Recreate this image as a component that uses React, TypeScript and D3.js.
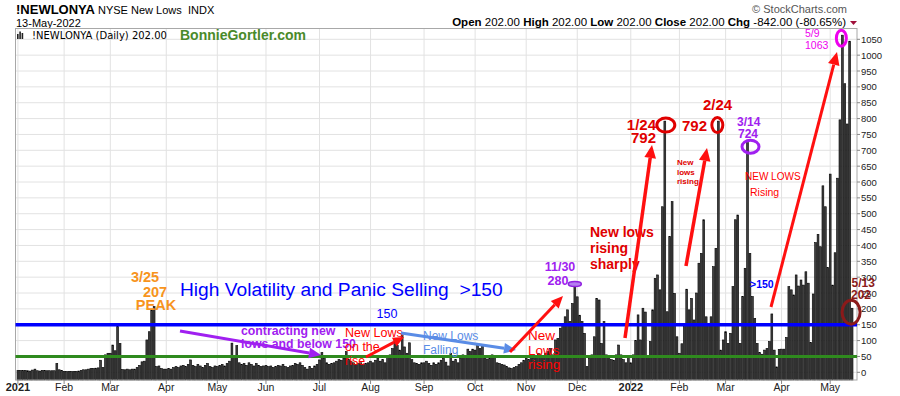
import React from "react";
import * as d3 from "d3";

// month labels along the bottom axis and the number of trading days in each month
const monthLabels = ["2021", "Feb", "Mar", "Apr", "May", "Jun", "Jul", "Aug", "Sep", "Oct", "Nov", "Dec", "2022", "Feb", "Mar", "Apr", "May"];
const boldLabels = ["2021", "2022"];
const monthDays = [19, 19, 23, 21, 20, 22, 21, 22, 21, 21, 21, 22, 20, 19, 23, 20, 10];

// daily NYSE new lows, one array per month
const jan21 = [6, 6, 6, 6, 5, 4, 7, 10, 5, 4, 6, 6, 5, 5, 5, 5, 28, 8, 6];
const feb21 = [3, 3, 3, 3, 3, 3, 4, 6, 8, 8, 10, 12, 12, 13, 14, 38, 15, 55, 60];
const mar21 = [60, 86, 68, 144, 91, 9, 8, 10, 8, 10, 10, 15, 22, 33, 35, 102, 128, 197, 207, 18, 20, 12, 10];
const apr21 = [10, 12, 10, 15, 18, 15, 20, 22, 18, 25, 39, 22, 18, 25, 20, 15, 22, 28, 18, 15, 20];
const may21 = [18, 22, 25, 20, 28, 35, 92, 50, 84, 30, 25, 28, 22, 30, 25, 20, 28, 22, 18, 20];
const jun21 = [22, 18, 20, 15, 18, 22, 20, 25, 18, 15, 20, 22, 28, 25, 30, 22, 15, 10, 18, 12, 20, 25];
const jul21 = [39, 62, 44, 30, 25, 28, 30, 35, 40, 38, 45, 65, 40, 35, 30, 25, 28, 30, 25, 28, 30];
const aug21 = [35, 30, 38, 45, 35, 40, 30, 49, 55, 75, 100, 85, 70, 118, 80, 60, 93, 40, 30, 28, 25, 30];
const sep21 = [30, 35, 28, 22, 30, 25, 30, 38, 44, 32, 20, 60, 35, 40, 30, 45, 55, 50, 73, 65, 73];
const oct21 = [70, 86, 75, 86, 45, 42, 45, 55, 50, 30, 28, 25, 23, 18, 14, 12, 15, 18, 25, 30, 38];
const nov21 = [45, 40, 55, 45, 50, 60, 55, 50, 60, 65, 75, 55, 102, 107, 139, 149, 175, 197, 160, 217, 280];
const dec21 = [238, 180, 160, 123, 18, 44, 55, 112, 233, 228, 91, 160, 55, 52, 40, 38, 55, 86, 55, 40, 30, 50];
const jan22 = [30, 55, 100, 181, 102, 202, 190, 49, 97, 197, 296, 307, 260, 522, 792, 191, 428, 538, 249, 112];
const feb22 = [60, 90, 144, 262, 197, 233, 165, 250, 344, 375, 481, 175, 149, 175, 333, 391, 792, 70, 102];
const mar22 = [128, 91, 123, 270, 481, 496, 91, 239, 328, 724, 375, 239, 170, 91, 62, 57, 70, 75, 97, 184, 70, 17, 72];
const apr22 = [73, 73, 110, 270, 260, 244, 307, 272, 291, 275, 317, 281, 94, 247, 409, 435, 396, 588, 522, 330];
const may22 = [625, 275, 377, 612, 796, 1063, 910, 783, 1044, 202];

const newLows = [
  ...jan21, ...feb21, ...mar21, ...apr21, ...may21, ...jun21, ...jul21, ...aug21, ...sep21,
  ...oct21, ...nov21, ...dec21, ...jan22, ...feb22, ...mar22, ...apr22, ...may22,
];

const yTicks = d3.range(0, 1051, 50);

const W = 900;
const H = 396;
const left = 15.5;
const right = 857;
const top = 28.5;
const bottom = 380;

function Arrow({ x1, y1, x2, y2, color, w = 3, head = 12 }) {
  const a = Math.atan2(y2 - y1, x2 - x1);
  const hx = x2 - head * Math.cos(a);
  const hy = y2 - head * Math.sin(a);
  const hw = head * 0.45;
  const pts = [
    [x2, y2],
    [hx + hw * Math.sin(a), hy - hw * Math.cos(a)],
    [hx - hw * Math.sin(a), hy + hw * Math.cos(a)],
  ];
  return (
    <g>
      <line x1={x1} y1={y1} x2={hx} y2={hy} stroke={color} strokeWidth={w} />
      <polygon points={pts.map((p) => p.join(",")).join(" ")} fill={color} />
    </g>
  );
}

export default function App() {
  const x = d3.scaleBand().domain(d3.range(newLows.length)).range([16.7, 853.3]);
  const y = d3.scaleLinear().domain([0, 1050]).range([372.3, 39.3]);
  const bw = x.bandwidth();
  const cx = (i) => x(i) + bw / 2;

  const starts = [0, ...d3.cumsum(monthDays)].slice(0, monthDays.length);

  const font = "Arial, 'Liberation Sans', sans-serif";

  return (
    <svg width={W} height={H} style={{ position: "absolute", left: 0, top: 0, background: "#fff" }} fontFamily={font}>
      <rect x={0} y={0} width={W} height={H} fill="#fff" />

      {/* header */}
      <text x={16} y={13.5} fontSize={13} fontWeight="bold">!NEWLONYA</text>
      <text x={98} y={13.5} fontSize={11}>NYSE New Lows</text>
      <text x={188} y={13.5} fontSize={11}>INDX</text>
      <text x={16} y={26.5} fontSize={11}>13-May-2022</text>
      <text x={847} y={12.5} fontSize={11} fill="#555" textAnchor="end">© StockCharts.com</text>
      <text x={846} y={26} fontSize={11.5} textAnchor="end">
        <tspan fontWeight="bold">Open</tspan> 202.00{"  "}
        <tspan fontWeight="bold">High</tspan> 202.00{"  "}
        <tspan fontWeight="bold">Low</tspan> 202.00{"  "}
        <tspan fontWeight="bold">Close</tspan> 202.00{"  "}
        <tspan fontWeight="bold">Chg</tspan> -842.00 (-80.65%)
      </text>
      <polygon points="850,21 857,21 853.5,25" fill="#a0103a" />

      {/* grid */}
      {yTicks.map((t) => (
        <line key={"h" + t} x1={left} x2={right} y1={y(t)} y2={y(t)} stroke="#e2e2e2" />
      ))}
      {starts.map((s, i) => (
        <line key={"v" + i} x1={cx(s)} x2={cx(s)} y1={top} y2={bottom} stroke="#e2e2e2" />
      ))}

      {/* bars */}
      {newLows.map((v, i) => (
        <rect key={i} x={x(i) + 0.3} width={bw - 0.6} y={y(v)} height={bottom - y(v)} fill="#3f3f3f" stroke="#000" strokeWidth={0.6} />
      ))}

      {/* frame */}
      <rect x={left} y={top} width={right - left} height={bottom - top} fill="none" stroke="#a8a8a8" />

      {/* legend row inside the plot */}
      <g fill="#222">
        <rect x={17} y={34} width={1.6} height={5} />
        <rect x={19.3} y={31.5} width={1.6} height={7.5} />
        <rect x={21.6} y={33} width={1.6} height={6} />
      </g>
      <text x={32} y={39} fontSize={10} fontFamily="'DejaVu Sans', sans-serif">!NEWLONYA (Daily) 202.00</text>
      <text x={180} y={39.5} fontSize={14} fontWeight="bold" fill="#4a8a2a">BonnieGortler.com</text>

      {/* right axis */}
      {yTicks.map((t) => (
        <g key={"yt" + t}>
          <line x1={right} x2={right + 3} y1={y(t)} y2={y(t)} stroke="#888" />
          <text x={861} y={y(t) + 3.5} fontSize={9.5} fill="#222">{t}</text>
        </g>
      ))}

      {/* bottom axis */}
      {starts.map((s, i) => (
        <g key={"xt" + i}>
          <line x1={cx(s)} x2={cx(s)} y1={bottom} y2={bottom + 4} stroke="#888" />
          <text
            x={cx(s)}
            y={391}
            fontSize={boldLabels.includes(monthLabels[i]) ? 11 : 10.5}
            fontWeight={boldLabels.includes(monthLabels[i]) ? "bold" : "normal"}
            textAnchor="middle"
            fill="#222"
          >
            {monthLabels[i]}
          </text>
        </g>
      ))}

      {/* reference lines */}
      <line x1={left} x2={right} y1={y(150)} y2={y(150)} stroke="#0000ff" strokeWidth={3.5} />
      <line x1={left} x2={right} y1={y(50)} y2={y(50)} stroke="#2f8a1e" strokeWidth={3} />

      {/* annotations */}
      <g fill="#f7941d" fontWeight="bold" fontSize={14.5} textAnchor="middle">
        <text x={145} y={282}>3/25</text>
        <text x={155} y={297}>207</text>
        <text x={156} y={310}>PEAK</text>
      </g>
      <text x={180} y={295.5} fontSize={19.2} fill="#0000ff">High Volatility and Panic Selling {"\u00a0"}&gt;150</text>
      <text x={376.5} y={318} fontSize={12.5} fill="#0000ff">150</text>

      <Arrow x1={180} y1={331} x2={321} y2={355} color="#a020f0" w={3} head={12} />
      <g fill="#a020f0" fontWeight="bold" fontSize={12.3}>
        <text x={241} y={334.5}>contracting new</text>
        <text x={241} y={348}>lows and below 150</text>
      </g>

      <g fill="#ff0000" fontSize={12.5}>
        <text x={345} y={337}>New Lows</text>
        <text x={345} y={351}>on the</text>
        <text x={345} y={365}>rise</text>
      </g>
      <Arrow x1={366} y1={357} x2={404} y2={337} color="#ff1010" w={3} head={11} />

      <g fill="#5a8ce6" fontSize={12}>
        <text x={423} y={340}>New Lows</text>
        <text x={423} y={353.5}>Falling</text>
      </g>
      <Arrow x1={401} y1={333} x2={516} y2={350} color="#5a8ce6" w={3} head={12} />

      <g fill="#ff0000" fontSize={13.5}>
        <text x={528} y={340}>New</text>
        <text x={528} y={355}>Lows</text>
        <text x={528} y={369}>rising</text>
      </g>
      <Arrow x1={510} y1={352} x2={563} y2={296} color="#ff1010" w={3} head={12} />

      <g fill="#a020f0" fontWeight="bold" fontSize={12.5} textAnchor="middle">
        <text x={560} y={271}>11/30</text>
        <text x={558} y={284.5}>280</text>
      </g>
      <ellipse cx={cx(229)} cy={y(280) + 0.5} rx={6.5} ry={2.5} fill="#b57ef0" stroke="#9020e0" strokeWidth={1.5} />

      <g fill="#e00000" fontWeight="bold" fontSize={14}>
        <text x={590} y={237}>New lows</text>
        <text x={590} y={253}>rising</text>
        <text x={590} y={269}>sharply</text>
      </g>
      <Arrow x1={625} y1={338} x2={652} y2={145} color="#ff1010" w={3.5} head={13} />

      <g fill="#e00000" fontWeight="bold" fontSize={15} textAnchor="end">
        <text x={656} y={130}>1/24</text>
        <text x={656} y={143}>792</text>
      </g>
      <ellipse cx={cx(266) + 1} cy={y(792) + 4} rx={9} ry={7} fill="none" stroke="#e00000" strokeWidth={3} />

      <g fill="#e00000" fontWeight="bold" fontSize={15}>
        <text x={703} y={110}>2/24</text>
        <text x={682} y={131}>792</text>
      </g>
      <ellipse cx={cx(288) - 1} cy={y(792) + 4} rx={5.5} ry={7.5} fill="none" stroke="#e00000" strokeWidth={3} />

      <g fill="#e00000" fontWeight="bold" fontSize={8}>
        <text x={677} y={165}>New</text>
        <text x={677} y={175}>lows</text>
        <text x={677} y={184}>rising</text>
      </g>
      <Arrow x1={686} y1={266} x2={707} y2={148} color="#ff1010" w={3.5} head={13} />

      <g fill="#a020f0" fontWeight="bold" fontSize={12}>
        <text x={737} y={125.5}>3/14</text>
        <text x={738} y={137.5}>724</text>
      </g>
      <ellipse cx={cx(300) + 3} cy={y(724) + 4} rx={8.5} ry={6.5} fill="none" stroke="#a020f0" strokeWidth={3} />

      <g fill="#ff0000" fontSize={10}>
        <text x={745} y={180}>NEW LOWS</text>
        <text x={750} y={195.5} fontSize={10.5}>Rising</text>
      </g>
      <text x={750} y={288} fill="#0000ff" fontWeight="bold" fontSize={10.5}>&gt;150</text>
      <Arrow x1={771} y1={307} x2={837} y2={52} color="#ff1010" w={3} head={13} />

      <g fill="#ee00ee" fontSize={10.5}>
        <text x={805} y={36.5}>5/9</text>
        <text x={805} y={48.5}>1063</text>
      </g>
      <ellipse cx={cx(339) - 1} cy={y(1063) + 3} rx={5} ry={8} fill="none" stroke="#ee00ee" strokeWidth={3} />

      <g fill="#8b1a1a" fontWeight="bold" fontSize={12}>
        <text x={851.5} y={287}>5/13</text>
        <text x={851} y={298.5}>202</text>
      </g>
      <ellipse cx={cx(343) - 1} cy={y(202) + 4} rx={9} ry={12} fill="none" stroke="#8b1a1a" strokeWidth={3} />
    </svg>
  );
}
